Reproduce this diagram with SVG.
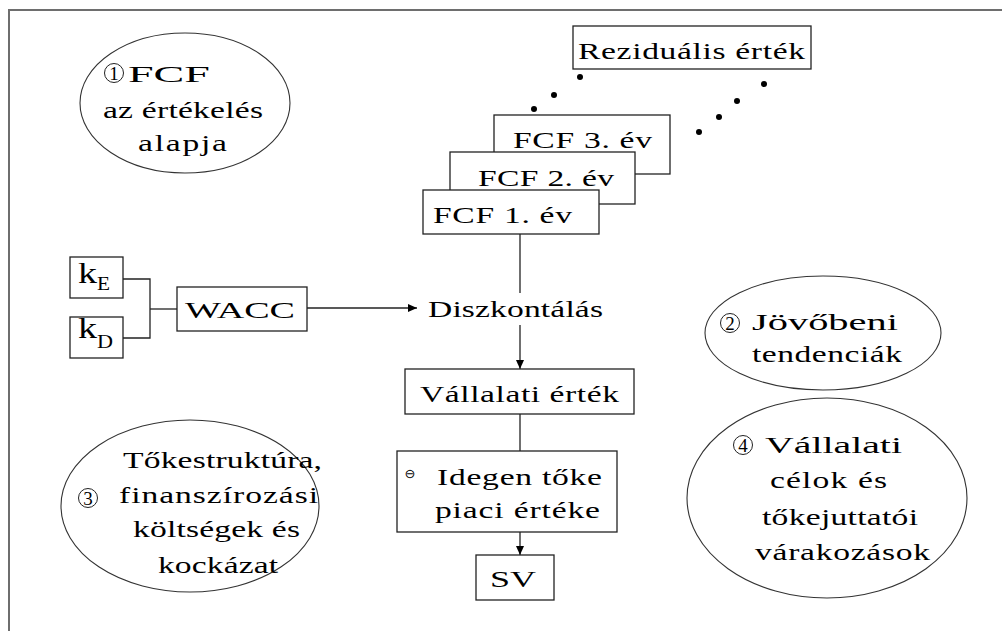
<svg xmlns="http://www.w3.org/2000/svg" width="1002" height="631" viewBox="0 0 1002 631">
  <style>
    .box { fill: #fff; stroke: #222; stroke-width: 1.3; }
    .oval { fill: #fff; stroke: #333; stroke-width: 1.1; }
    .num { fill: none; stroke: #222; stroke-width: 1; }
    .t { font-family: 'Liberation Serif', 'Times New Roman', serif; font-size: 24px; fill: #000; }
    .d { font-family: 'Liberation Serif', 'Times New Roman', serif; font-size: 19px; fill: #000; text-anchor: middle; }
    .k { font-family: 'Liberation Serif', 'Times New Roman', serif; font-size: 29px; fill: #000; }
    .sub { font-family: 'Liberation Serif', 'Times New Roman', serif; font-size: 18px; fill: #000; }
    .ln { fill: none; stroke: #222; stroke-width: 1.3; }
    .dot { fill: #000; }
  </style>
  <defs>
    <marker id="arr" markerWidth="10" markerHeight="10" refX="9" refY="5" orient="auto" markerUnits="userSpaceOnUse">
      <path d="M0,1 L9,5 L0,9 Z" fill="#000"/>
    </marker>
  </defs>

  <rect width="1002" height="631" fill="#fff"/>
  <!-- page frame -->
  <path d="M9,631 L9,10 L1002,10" fill="none" stroke="#6e6e6e" stroke-width="2"/>

  <!-- connectors -->
  <g id="connectors">
    <path class="ln" d="M123,279 H150 V338 H123"/>
    <path class="ln" d="M150,309 H177"/>
    <path class="ln" d="M307,308 H417" marker-end="url(#arr)"/>
    <path class="ln" d="M520,234 V293"/>
    <path class="ln" d="M520,325 V369" marker-end="url(#arr)"/>
    <path class="ln" d="M520,414 V451"/>
    <path class="ln" d="M520,532 V555" marker-end="url(#arr)"/>
    <!-- dotted continuation towards the residual value -->
    <circle class="dot" cx="580" cy="77" r="3"/>
    <circle class="dot" cx="554" cy="95" r="3"/>
    <circle class="dot" cx="534" cy="109" r="3"/>
    <circle class="dot" cx="764" cy="84" r="3"/>
    <circle class="dot" cx="737" cy="101" r="3"/>
    <circle class="dot" cx="719" cy="117" r="3"/>
    <circle class="dot" cx="699" cy="132" r="3"/>
  </g>

  <!-- labels use a 1.4x widened serif face; x and textLength are in the widened frame -->

  <!-- 1: FCF -->
  <g id="oval-fcf">
    <ellipse class="oval" cx="185" cy="103" rx="105" ry="70"/>
    <circle class="num" cx="114" cy="73" r="9.5"/>
    <text class="d" x="114" y="80">1</text>
    <text class="t" transform="scale(1.4 1)" x="91.43" y="82" textLength="58.57" lengthAdjust="spacingAndGlyphs">FCF</text>
    <text class="t" transform="scale(1.4 1)" x="73.57" y="118" textLength="114.29">az értékelés</text>
    <text class="t" transform="scale(1.4 1)" x="98.57" y="151" textLength="63.57">alapja</text>
  </g>

  <!-- residual value -->
  <g id="box-rezidualis">
    <rect class="box" x="573" y="26" width="238" height="43"/>
    <text class="t" transform="scale(1.4 1)" x="412.86" y="59" textLength="162.14">Reziduális érték</text>
  </g>

  <!-- yearly FCF cards -->
  <g id="box-fcf3">
    <rect class="box" x="494" y="115" width="176" height="59"/>
    <text class="t" transform="scale(1.4 1)" x="366.43" y="148" textLength="99.29">FCF 3. év</text>
  </g>
  <g id="box-fcf2">
    <rect class="box" x="450" y="152" width="185" height="52"/>
    <text class="t" transform="scale(1.4 1)" x="341.43" y="186" textLength="97.14">FCF 2. év</text>
  </g>
  <g id="box-fcf1">
    <rect class="box" x="423" y="190" width="176" height="44"/>
    <text class="t" transform="scale(1.4 1)" x="309.29" y="223" textLength="99.29">FCF 1. év</text>
  </g>

  <!-- cost of capital inputs -->
  <g id="box-ke">
    <rect class="box" x="70" y="257" width="53" height="41"/>
    <text class="k" x="78" y="283" textLength="19" lengthAdjust="spacingAndGlyphs">k</text>
    <text class="sub" x="97" y="290" textLength="13" lengthAdjust="spacingAndGlyphs">E</text>
  </g>
  <g id="box-kd">
    <rect class="box" x="70" y="317" width="53" height="41"/>
    <text class="k" x="78" y="338" textLength="19" lengthAdjust="spacingAndGlyphs">k</text>
    <text class="sub" x="97" y="348" textLength="16" lengthAdjust="spacingAndGlyphs">D</text>
  </g>
  <g id="box-wacc">
    <rect class="box" x="177" y="287" width="130" height="44"/>
    <text class="t" transform="scale(1.4 1)" x="132.14" y="318" textLength="78.57" lengthAdjust="spacingAndGlyphs">WACC</text>
  </g>

  <g id="label-diszkontalas">
    <text class="t" transform="scale(1.4 1)" x="305.71" y="317" textLength="125">Diszkontálás</text>
  </g>

  <g id="box-vallalati-ertek">
    <rect class="box" x="405" y="369" width="229" height="45"/>
    <text class="t" transform="scale(1.4 1)" x="300" y="402" textLength="142.14">Vállalati érték</text>
  </g>

  <g id="box-idegen-toke">
    <rect class="box" x="397" y="451" width="220" height="81"/>
    <text x="410" y="478" font-family="'DejaVu Sans', sans-serif" font-size="13" text-anchor="middle" fill="#000">⊖</text>
    <text class="t" transform="scale(1.4 1)" x="312.14" y="485" textLength="117.86">Idegen tőke</text>
    <text class="t" transform="scale(1.4 1)" x="310.71" y="518" textLength="117.86">piaci értéke</text>
  </g>

  <g id="box-sv">
    <rect class="box" x="476" y="555" width="78" height="45"/>
    <text class="t" transform="scale(1.4 1)" x="350" y="587" textLength="32.86" lengthAdjust="spacingAndGlyphs">SV</text>
  </g>

  <!-- 2: future trends -->
  <g id="oval-tendenciak">
    <ellipse class="oval" cx="823" cy="333" rx="118" ry="57"/>
    <circle class="num" cx="730" cy="323" r="9.5"/>
    <text class="d" x="730" y="330">2</text>
    <text class="t" transform="scale(1.4 1)" x="537.14" y="330" textLength="104.29" lengthAdjust="spacingAndGlyphs">Jövőbeni</text>
    <text class="t" transform="scale(1.4 1)" x="537.14" y="362" textLength="107.14">tendenciák</text>
  </g>

  <!-- 3: capital structure -->
  <g id="oval-tokestruktura">
    <ellipse class="oval" cx="190" cy="506" rx="129" ry="86"/>
    <circle class="num" cx="88" cy="498" r="9.5"/>
    <text class="d" x="88" y="505">3</text>
    <text class="t" transform="scale(1.4 1)" x="87.86" y="468" textLength="142.14">Tőkestruktúra,</text>
    <text class="t" transform="scale(1.4 1)" x="85" y="503" textLength="142.14">finanszírozási</text>
    <text class="t" transform="scale(1.4 1)" x="95" y="537" textLength="119.29">költségek és</text>
    <text class="t" transform="scale(1.4 1)" x="112.86" y="573" textLength="85.71">kockázat</text>
  </g>

  <!-- 4: corporate goals -->
  <g id="oval-vallalati-celok">
    <ellipse class="oval" cx="827" cy="498" rx="140" ry="100"/>
    <circle class="num" cx="743" cy="445" r="9.5"/>
    <text class="d" x="743" y="452">4</text>
    <text class="t" transform="scale(1.4 1)" x="546.43" y="453" textLength="97.86" lengthAdjust="spacingAndGlyphs">Vállalati</text>
    <text class="t" transform="scale(1.4 1)" x="550" y="488" textLength="83.57">célok és</text>
    <text class="t" transform="scale(1.4 1)" x="544.29" y="525" textLength="111.43">tőkejuttatói</text>
    <text class="t" transform="scale(1.4 1)" x="539.29" y="560" textLength="125">várakozások</text>
  </g>
</svg>
